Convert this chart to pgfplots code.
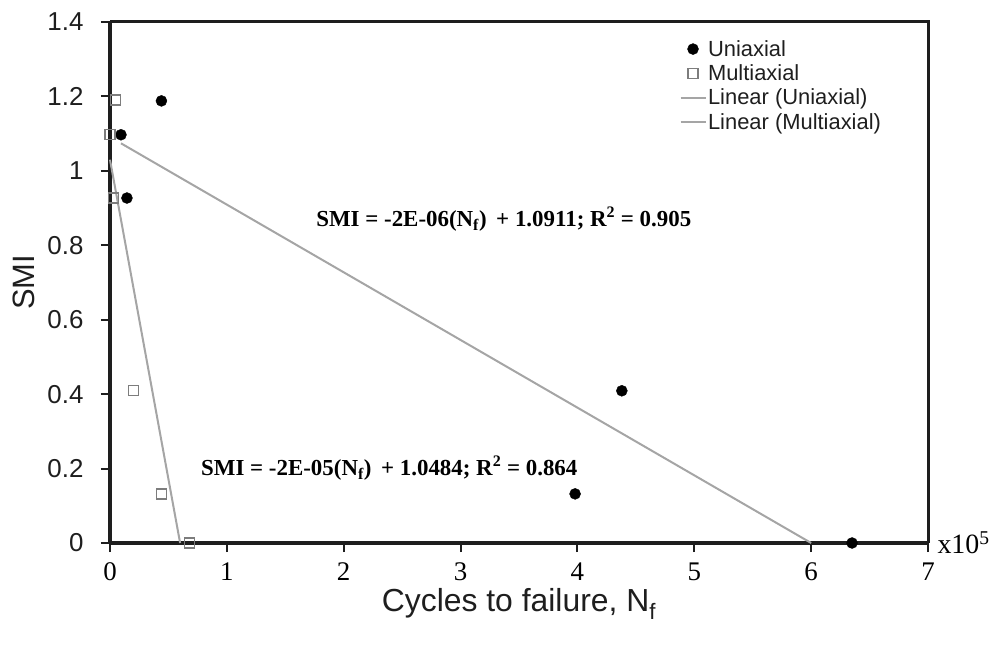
\documentclass[border=0pt]{standalone}
\usepackage{fontspec}
\setmainfont{Liberation Sans}
\newfontfamily\tnr{Liberation Serif}
\usepackage{pgfplots}
\pgfplotsset{compat=1.18}
\definecolor{trend}{RGB}{165,165,165}
\definecolor{sqedge}{RGB}{125,125,125}
\definecolor{axisgray}{RGB}{30,30,30}

\begin{document}
\begin{tikzpicture}
\useasboundingbox (0,0) rectangle (998bp,650bp);
\begin{axis}[
  at={(110bp,107bp)}, anchor=south west,
  scale only axis, width=818bp, height=521bp,
  xmin=0, xmax=7, ymin=0, ymax=1.4,
  xtick={0,1,2,3,4,5,6,7},
  ytick={0,0.2,0.4,0.6,0.8,1,1.2,1.4},
  axis x line*=bottom, axis y line*=left,
  axis line style={-, line width=3bp, axisgray},
  tick align=outside,
  major tick length=9bp,
  every tick/.append style={axisgray, line width=2bp},
  /pgf/number format/assume math mode=true,
  xticklabel style={font=\tnr\fontsize{27}{30}\selectfont, text=black, yshift=-7bp},
  yticklabel style={font=\fontsize{26}{30}\selectfont, text=axisgray, xshift=-14bp},
  xlabel={Cycles to failure, N\textsubscript{f}},
  ylabel={SMI},
  xlabel style={font=\fontsize{32}{34}\selectfont, text=axisgray, yshift=-1bp},
  ylabel style={font=\fontsize{31}{34}\selectfont, text=axisgray, yshift=6bp},
  clip=false,
  legend style={at={(0.696,0.968)}, anchor=north west, draw=none, fill=none,
    font=\fontsize{22}{25}\selectfont, text=axisgray, row sep=4bp,
    inner sep=0pt, nodes={inner sep=1.5bp}},
  legend cell align=left,
  legend image code/.code={
    \draw[#1, mark repeat=2, mark phase=2] plot coordinates {(0bp,0bp) (12.5bp,0bp) (25bp,0bp)};},
]
\draw[axisgray, line width=3bp] (rel axis cs:0,1) -- (rel axis cs:1,1) -- (rel axis cs:1,0);
\addplot[only marks, mark=*, mark size=5.5bp, black] coordinates {
  (0.44,1.188) (0.094,1.097) (0.145,0.927) (4.38,0.409) (3.98,0.132) (6.35,0.0)
};
\addlegendentry{Uniaxial}
\addplot[only marks, mark=square, mark size=5bp, sqedge, line width=1.3bp,
  mark options={fill=white}] coordinates {
  (0.05,1.19) (0.0,1.097) (0.03,0.927) (0.20,0.409) (0.44,0.132) (0.68,0.0)
};
\addlegendentry{Multiaxial}
\addplot[trend, line width=2bp] coordinates {(0.094,1.074) (6.0,0.0)};
\addlegendentry{Linear (Uniaxial)}
\addplot[trend, line width=2bp] coordinates {(0.0,1.03) (0.60,0.0)};
\addlegendentry{Linear (Multiaxial)}
\node[font=\tnr\bfseries\fontsize{23}{26}\selectfont, anchor=center] at (axis cs:3.37,0.87)
  {SMI = -2E-06(N\textsubscript{f}) \,+ 1.0911; R\textsuperscript{2} = 0.905};
\node[font=\tnr\bfseries\fontsize{23}{26}\selectfont, anchor=center] at (axis cs:2.39,0.20)
  {SMI = -2E-05(N\textsubscript{f}) \,+ 1.0484; R\textsuperscript{2} = 0.864};
\node[font=\tnr\fontsize{28}{30}\selectfont, anchor=west] at (axis cs:7,0)
  {\hspace{6bp}x10\textsuperscript{5}};
\end{axis}
\end{tikzpicture}
\end{document}
